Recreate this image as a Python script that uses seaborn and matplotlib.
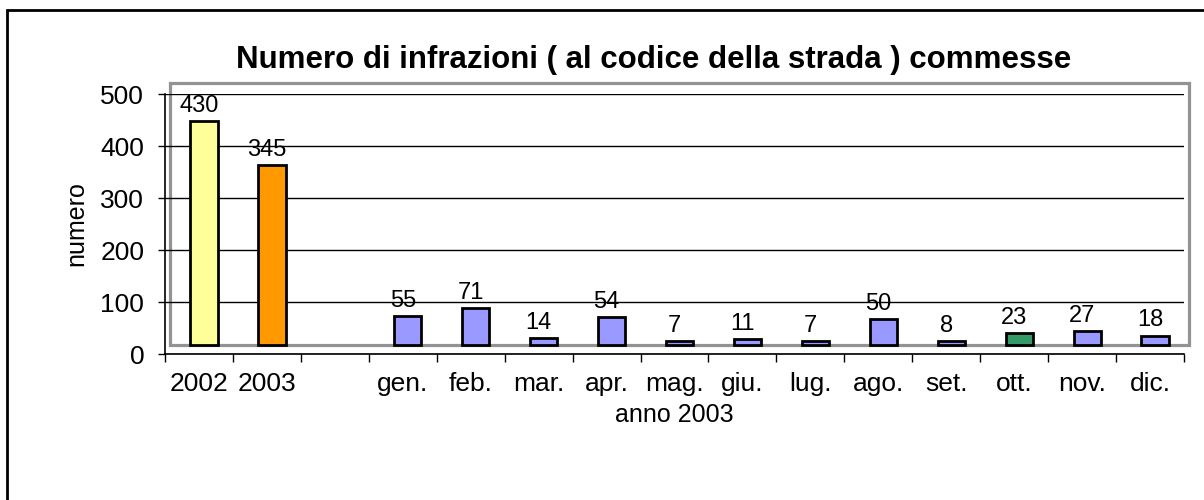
import matplotlib
matplotlib.use("Agg")
import matplotlib.pyplot as plt
import seaborn as sns
import pandas as pd
from matplotlib.patches import Rectangle

# dati
categorie = ["2002", "2003", "", "gen.", "feb.", "mar.", "apr.", "mag.",
             "giu.", "lug.", "ago.", "set.", "ott.", "nov.", "dic."]
valori = [430, 345, None, 55, 71, 14, 54, 7, 11, 7, 50, 8, 23, 27, 18]
colori = ["#FFFF99", "#FF9900", "#FFFFFF", "#9999FF", "#9999FF", "#9999FF",
          "#9999FF", "#9999FF", "#9999FF", "#9999FF", "#9999FF", "#9999FF",
          "#339966", "#9999FF", "#9999FF"]

titolo = "Numero di infrazioni ( al codice della strada ) commesse"

df = pd.DataFrame({"mese": categorie, "numero": valori}).dropna()
palette = dict(zip(categorie, colori))

sns.set_theme(style="white")
plt.rcParams['font.family'] = ['Liberation Sans', 'DejaVu Sans']
plt.rcParams['text.color'] = 'black'
plt.rcParams['axes.labelcolor'] = 'black'
plt.rcParams['xtick.color'] = 'black'
plt.rcParams['ytick.color'] = 'black'

fig = plt.figure(figsize=(12.04, 5), dpi=100)
ax = fig.add_axes([165/1204, 146/500, 1019/1204, 260/500])

sns.barplot(data=df, x="mese", y="numero", hue="mese", order=categorie,
            palette=palette, saturation=1, width=0.4, edgecolor="black",
            linewidth=2, legend=False, ax=ax, zorder=3)

# effetto "profondita'" stile Excel: barre spostate sul pavimento
floor = 17.5
shift = 0.074
for p in ax.patches:
    p.set_x(p.get_x() + shift)
    p.set_y(floor)

ax.set_xlim(-0.5, len(categorie) - 0.5)
ax.set_ylim(0, 500)
ax.set_yticks(range(0, 501, 100))

# parete grigia di fondo
ax.add_patch(Rectangle((-0.5 + shift, floor - 0.5), len(categorie), 521 - floor,
                       fill=False, edgecolor="#939393", linewidth=2.3,
                       clip_on=False, zorder=1))

ax.yaxis.grid(True, color="black", linewidth=1)
ax.set_axisbelow(False)
for s in ["top", "right"]:
    ax.spines[s].set_visible(False)
for s in ["left", "bottom"]:
    ax.spines[s].set_color("black")
    ax.spines[s].set_linewidth(1.2)
    ax.spines[s].set_zorder(4)

for i, v in enumerate(valori):
    if v is None:
        continue
    ax.text(i, v + 35, str(v), ha="center", va="baseline", fontsize=17,
            color="black", zorder=5)

ax.set_xticks(range(len(categorie)))
ax.set_xticklabels(categorie, fontsize=19)
ax.set_xticks([i - 0.5 for i in range(len(categorie) + 1)], minor=True)
ax.tick_params(axis="x", which="major", length=0, pad=13)
ax.tick_params(axis="x", which="minor", length=6, width=1, color="black",
               direction="out", bottom=True)
ax.tick_params(axis="y", length=5, width=1, color="black", direction="out",
               left=True, labelsize=19, pad=10)

ax.set_xlabel("anno 2003", fontsize=18)
ax.xaxis.set_label_coords(0.5, -0.19)
ax.set_ylabel("numero", fontsize=18)
ax.yaxis.set_label_coords(-0.0756, 0.5)

ax.set_title(titolo, fontsize=22.5, fontweight="bold", x=0.48,
             y=(354 - 68) / 260, pad=0)

# cornice esterna del grafico
fig.patches.append(Rectangle((7/1204, -0.1), 1.2, (490/500) + 0.1,
                             transform=fig.transFigure, fill=False,
                             edgecolor="black", linewidth=2))

fig.savefig("out.png", dpi=100)
